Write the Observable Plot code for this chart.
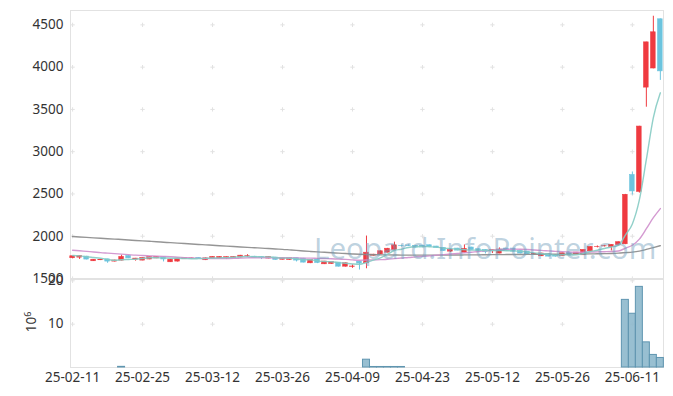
<!DOCTYPE html>
<html><head><meta charset="utf-8">
<script src="https://cdn.jsdelivr.net/npm/d3@7"></script>
<script src="https://cdn.jsdelivr.net/npm/@observablehq/plot@0.6"></script>
<style>
body{margin:0;background:#fff;font-family:"Noto Sans",sans-serif;}
#wrap{position:relative;width:673px;height:396px;overflow:hidden;}
#wrap svg{position:absolute;left:0;overflow:visible;background:transparent!important;}
#wm{position:absolute;left:314px;top:227px;font-family:"Noto Sans",sans-serif;font-size:29.5px;color:rgba(110,155,185,0.45);white-space:nowrap;pointer-events:none;z-index:5;}
</style></head><body><div id="wrap"><div id="wm">Leopard.InfoPointer.com</div></div><script>
const dates = ["25-02-11","25-02-12","25-02-13","25-02-14","25-02-17","25-02-18","25-02-19","25-02-20","25-02-21","25-02-24",
"25-02-25","25-02-26","25-02-27","25-02-28","25-03-04","25-03-05","25-03-06","25-03-07","25-03-10","25-03-11",
"25-03-12","25-03-13","25-03-14","25-03-17","25-03-18","25-03-19","25-03-20","25-03-21","25-03-24","25-03-25",
"25-03-26","25-03-27","25-03-28","25-03-31","25-04-01","25-04-02","25-04-03","25-04-04","25-04-07","25-04-08",
"25-04-09","25-04-10","25-04-11","25-04-14","25-04-15","25-04-16","25-04-17","25-04-18","25-04-21","25-04-22",
"25-04-23","25-04-24","25-04-25","25-04-28","25-04-29","25-04-30","25-05-02","25-05-07","25-05-08","25-05-09",
"25-05-12","25-05-13","25-05-14","25-05-15","25-05-16","25-05-19","25-05-20","25-05-21","25-05-22","25-05-23",
"25-05-26","25-05-27","25-05-28","25-05-29","25-05-30","25-06-02","25-06-04","25-06-05","25-06-09","25-06-10",
"25-06-11","25-06-12","25-06-13","25-06-16","25-06-17"];
const open = [1740,1747,1759,1704,1716,1726,1700,1712,1767,1723,1712,1725,1738,1752,1692,1700,1728,1733,1742,1716,
1735,1738,1738,1740,1748,1765,1758,1755,1736,1748,1722,1720,1740,1735,1680,1724,1668,1672,1688,1640,
1638,1700,1680,1770,1785,1806,1840,1887,1890,1885,1888,1893,1878,1862,1818,1854,1806,1866,1846,1838,
1822,1795,1854,1854,1826,1818,1785,1763,1787,1775,1763,1806,1787,1775,1822,1872,1880,1874,1897,1905,
2724,2525,3758,3984,4566];
const high = [1768,1768,1762,1724,1725,1728,1716,1776,1770,1738,1745,1757,1760,1755,1725,1738,1746,1742,1745,1742,
1758,1758,1755,1758,1773,1782,1762,1757,1758,1750,1745,1745,1742,1738,1722,1726,1702,1698,1690,1684,
1662,1702,2002,1786,1825,1856,1930,1895,1898,1890,1890,1895,1880,1866,1842,1856,1897,1870,1848,1840,
1836,1862,1856,1856,1828,1820,1795,1798,1790,1778,1800,1808,1808,1840,1875,1885,1892,1900,1932,2495,
2760,3300,4295,4602,4570];
const low = [1732,1725,1720,1702,1712,1680,1696,1708,1735,1705,1710,1722,1735,1696,1690,1695,1725,1730,1732,1712,
1732,1735,1724,1737,1745,1748,1742,1724,1733,1717,1720,1716,1696,1685,1676,1676,1665,1668,1636,1636,
1620,1600,1615,1765,1782,1803,1836,1872,1878,1862,1864,1870,1860,1822,1806,1828,1803,1835,1822,1790,
1795,1792,1822,1815,1792,1784,1780,1760,1756,1752,1760,1776,1784,1772,1820,1862,1872,1826,1894,1900,
2487,2510,3526,3980,3843];
const close = [1763,1765,1724,1722,1720,1700,1713,1755,1738,1735,1743,1755,1757,1725,1722,1735,1743,1738,1735,1738,
1755,1755,1752,1755,1770,1768,1745,1742,1755,1720,1742,1742,1712,1688,1720,1684,1700,1696,1640,1680,
1642,1676,1805,1782,1822,1852,1892,1883,1886,1866,1868,1873,1862,1826,1838,1830,1850,1838,1826,1814,
1834,1842,1826,1818,1795,1787,1788,1795,1759,1759,1798,1779,1806,1838,1873,1874,1882,1897,1929,2490,
2530,3297,4293,4412,3950];
// volume, millions of shares
const volume = [0,0,0,0,0,0,0,0.15,0,0,0,0,0,0,0,0,0,0,0,0,
0,0,0,0,0,0,0,0,0,0,0,0,0,0,0,0,0,0,0,0,
0,0,1.8,0.12,0.12,0.12,0.12,0.12,0,0,0,0,0,0,0,0,0,0,0,0,
0,0,0,0,0,0,0,0,0,0,0,0,0,0,0,0,0,0,0,15.6,
12.4,18.6,5.8,2.9,2.2];
const ma5 = [1772,1768,1757,1748,1739,1726,1716,1722,1725,1728,1737,1745,1746,1743,1740,1739,1736,1733,1735,1738,
1742,1744,1747,1751,1757,1760,1758,1756,1756,1746,1741,1740,1734,1721,1721,1709,1701,1698,1688,1680,
1672,1667,1689,1717,1745,1787,1831,1846,1867,1876,1879,1875,1871,1859,1853,1846,1841,1836,1836,1832,
1832,1831,1828,1827,1823,1814,1803,1796,1785,1777,1780,1778,1780,1796,1819,1834,1855,1873,1891,2014,
2146,2429,2908,3404,3696];
const ma20 = [1834,1828,1821,1814,1806,1800,1794,1788,1782,1776,1772,1768,1765,1761,1757,1752,1747,1742,1738,1736,
1736,1735,1737,1738,1741,1744,1746,1745,1746,1745,1745,1745,1742,1741,1741,1738,1736,1734,1729,1726,
1720,1716,1719,1720,1723,1727,1735,1742,1748,1756,1762,1768,1776,1783,1789,1796,1803,1811,1820,1827,
1836,1844,1846,1847,1846,1843,1837,1833,1827,1821,1818,1813,1810,1811,1813,1815,1817,1819,1825,1858,
1893,1966,2089,2219,2327];
const maLong = [1996,1991,1986,1981,1976,1971,1966,1961,1955,1950,1945,1940,1935,1929,1924,1919,1914,1908,1903,1898,
1893,1888,1883,1878,1873,1868,1864,1859,1854,1849,1845,1839,1833,1826,1820,1815,1810,1805,1800,1795,
1790,1786,1783,1781,1780,1779,1778,1777,1777,1776,1776,1776,1777,1777,1778,1778,1779,1780,1780,1781,
1782,1782,1783,1784,1784,1785,1785,1786,1786,1787,1787,1788,1789,1790,1791,1792,1794,1796,1800,1806,
1812,1824,1844,1866,1888];
const xTicks = [0,10,20,30,40,50,60,70,80];
const priceTicks = [1500,2000,2500,3000,3500,4000,4500];
const volTicks = [10,20];

const UP = "#ef3a40", DOWN = "#6cc4de";
const N = dates.length;
const idx = d3.range(N);
const candles = idx.map(i => ({i, o: open[i], h: high[i], l: low[i], c: close[i], col: close[i] >= open[i] ? UP : DOWN}));
const vols = idx.map(i => ({i, v: volume[i]})).filter(d => d.v > 0);
const gridMain = xTicks.flatMap(x => priceTicks.map(y => ({x, y})));
const gridVol = xTicks.flatMap(x => volTicks.map(y => ({x, y})));
const xDomain = [-0.3, 84.45];
const style = {fontFamily: '"Noto Sans",sans-serif', fontSize: "13.5px", color: "#333", overflow: "visible", background: "transparent"};
const gridMark = data => Plot.dot(data, {x: "x", y: "y", symbol: "plus", r: 1.5, stroke: "#e2e2e2", strokeWidth: 1});
const plain = d => String(d);

const main = Plot.plot({
  width: 673, height: 279, marginLeft: 70, marginRight: 10, marginTop: 10, marginBottom: 1,
  style,
  x: {type: "linear", domain: xDomain, axis: null},
  y: {type: "linear", domain: [1500, 4670], axis: null},
  color: {type: "identity"},
  marks: [
    Plot.frame({stroke: "#e2e2e2"}),
    gridMark(gridMain),
    Plot.axisY({ticks: priceTicks, tickFormat: plain, tickSize: 0, tickPadding: 7, label: null, fill: "#333"}),
    Plot.ruleX(candles, {x: "i", y1: "l", y2: "h", stroke: "col", strokeWidth: 1}),
    Plot.rect(candles, {x1: d => d.i - 0.33, x2: d => d.i + 0.33, y1: "o", y2: "c", fill: "col", stroke: "col", strokeWidth: 0.6}),
    Plot.line(idx, {x: i => i, y: i => maLong[i], stroke: "#8a8a8a", strokeWidth: 1.4, strokeOpacity: 0.9, curve: "monotone-x"}),
    Plot.line(idx, {x: i => i, y: i => ma20[i], stroke: "#cf8fcc", strokeWidth: 1.4, strokeOpacity: 0.9, curve: "monotone-x"}),
    Plot.line(idx, {x: i => i, y: i => ma5[i], stroke: "#85cbc3", strokeWidth: 1.4, strokeOpacity: 0.9, curve: "monotone-x"})
  ]
});

const vol = Plot.plot({
  width: 673, height: 117, marginLeft: 70, marginRight: 10, marginTop: 0, marginBottom: 29,
  style,
  x: {type: "linear", domain: xDomain, axis: null},
  y: {type: "linear", domain: [0, 20.3], axis: null},
  marks: [
    Plot.frame({stroke: "#e2e2e2"}),
    gridMark(gridVol),
    Plot.axisY({ticks: volTicks, tickFormat: plain, tickSize: 0, tickPadding: 7, label: null, fill: "#333"}),
    Plot.axisX({ticks: xTicks, tickFormat: i => dates[i], tickSize: 0, tickPadding: 5, label: null, fill: "#333"}),
    Plot.rectY(vols, {x1: d => d.i - 0.5, x2: d => d.i + 0.5, y: "v", fill: "#8db8cc", fillOpacity: 0.9, stroke: "#5f95b0", strokeWidth: 1})
  ]
});

const wrap = document.getElementById("wrap");
vol.style.top = "279px";
main.style.top = "0px";
main.style.zIndex = 2;
vol.style.zIndex = 1;
wrap.appendChild(vol);
wrap.appendChild(main);

const lab = d3.select(vol).append("text")
  .attr("transform", "translate(36,43) rotate(-90)")
  .attr("text-anchor", "middle")
  .attr("fill", "#333")
  .attr("font-size", 13.5);
lab.append("tspan").text("10");
lab.append("tspan").attr("dy", -5).attr("font-size", 9).text("6");
</script></body></html>
